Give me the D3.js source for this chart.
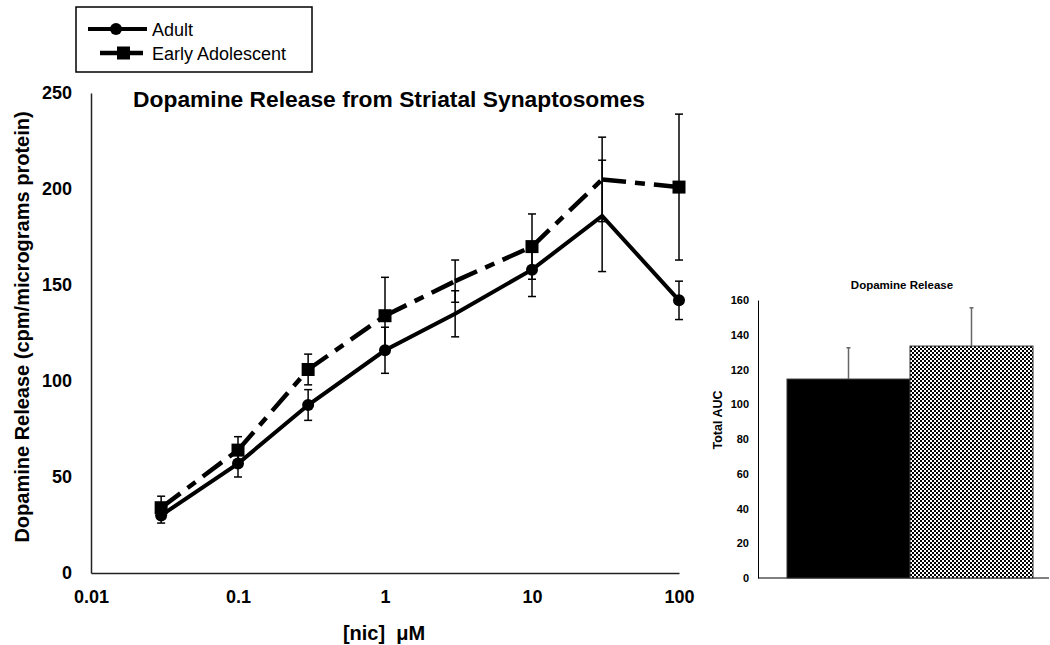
<!DOCTYPE html>
<html>
<head>
<meta charset="utf-8">
<script src="https://cdn.jsdelivr.net/npm/d3@7"></script>
<style>
  html, body { margin: 0; padding: 0; background: #fff; }
  svg { display: block; font-family: "Liberation Sans", Arial, sans-serif; }
</style>
</head>
<body>
<svg id="chart" width="1050" height="645"></svg>
<script>
// ---- data ----
const concentrations = [0.03, 0.1, 0.3, 1, 3, 10, 30, 100];
const adultMean = [30, 57, 87.5, 116, 135, 158, 186, 142];
const adultErr = [4, 7, 8, 12, 12, 14, 29, 10];
const adolescentMean = [34, 64, 106, 134, 152, 170, 205, 201];
const adolescentErr = [6, 7, 8, 20, 11, 17, 22, 38];
const xTickValues = [0.01, 0.1, 1, 10, 100];
const xTickLabels = ["0.01", "0.1", "1", "10", "100"];
const yTickValues = [0, 50, 100, 150, 200, 250];

const barGroups = ["Adult", "Early Adolescent"];
const barValues = [114.5, 133.5];
const barErrors = [18, 22];
const insetTicks = [0, 20, 40, 60, 80, 100, 120, 140, 160];

const svg = d3.select("#chart");

// pattern for checkered bar
const defs = svg.append("defs");
const pat = defs.append("pattern").attr("id", "checker")
  .attr("patternUnits", "userSpaceOnUse").attr("width", 4).attr("height", 4);
pat.append("rect").attr("width", 4).attr("height", 4).attr("fill", "#fff");
pat.append("rect").attr("x", 0).attr("y", 0).attr("width", 2).attr("height", 2).attr("fill", "#000");
pat.append("rect").attr("x", 2).attr("y", 2).attr("width", 2).attr("height", 2).attr("fill", "#000");

// ---- main chart ----
const x = d3.scaleLog().domain([0.01, 100]).range([91, 679]);
const y = d3.scaleLinear().domain([0, 250]).range([573, 93]);

// axes
const yAxis = d3.axisLeft(y).tickValues(yTickValues).tickSize(0).tickPadding(19);
const gy = svg.append("g").attr("transform", "translate(91,0)").call(yAxis);
gy.select(".domain").attr("stroke", "#222").attr("stroke-width", 1.5);
gy.selectAll("text").attr("font-size", 18).attr("font-weight", "bold").attr("fill", "#000");

const xAxis = d3.axisBottom(x).tickValues(xTickValues)
  .tickFormat((d, i) => xTickLabels[i]).tickSize(0).tickPadding(17);
const gx = svg.append("g").attr("transform", "translate(0,573)").call(xAxis);
gx.select(".domain").attr("stroke", "#222").attr("stroke-width", 1.5);
gx.selectAll("text").attr("font-size", 18).attr("font-weight", "bold").attr("fill", "#000");

// titles
svg.append("text").attr("x", 389).attr("y", 107).attr("text-anchor", "middle")
  .attr("font-size", 22.8).attr("font-weight", "bold")
  .text("Dopamine Release from Striatal Synaptosomes");

svg.append("text").attr("transform", "translate(29,327) rotate(-90)")
  .attr("text-anchor", "middle").attr("font-size", 20).attr("font-weight", "bold")
  .text("Dopamine Release (cpm/micrograms protein)");

svg.append("text").attr("x", 384).attr("y", 640).attr("text-anchor", "middle")
  .attr("font-size", 20).attr("font-weight", "bold")
  .attr("xml:space", "preserve")
  .text("[nic]  \u03BCM");

// error bars
function errorBars(means, errs) {
  const g = svg.append("g").attr("stroke", "#000").attr("stroke-width", 1.5);
  concentrations.forEach((c, i) => {
    const cx = x(c), top = y(means[i] + errs[i]), bot = y(means[i] - errs[i]);
    g.append("line").attr("x1", cx).attr("x2", cx).attr("y1", top).attr("y2", bot);
    g.append("line").attr("x1", cx - 4).attr("x2", cx + 4).attr("y1", top).attr("y2", top);
    g.append("line").attr("x1", cx - 4).attr("x2", cx + 4).attr("y1", bot).attr("y2", bot);
  });
}
errorBars(adolescentMean, adolescentErr);
errorBars(adultMean, adultErr);

// adolescent dashed line (dash restarts on each segment)
const gAdo = svg.append("g");
for (let i = 0; i < concentrations.length - 1; i++) {
  gAdo.append("line")
    .attr("x1", x(concentrations[i])).attr("y1", y(adolescentMean[i]))
    .attr("x2", x(concentrations[i + 1])).attr("y2", y(adolescentMean[i + 1]))
    .attr("stroke", "#000").attr("stroke-width", 4.5)
    .attr("stroke-dasharray", "24,9,10,9");
}
// adult solid line
const line = d3.line().x((d, i) => x(concentrations[i])).y(d => y(d));
svg.append("path").datum(adultMean).attr("d", line)
  .attr("fill", "none").attr("stroke", "#000").attr("stroke-width", 4)
  .attr("stroke-linejoin", "miter");

// markers
const adoMarkers = concentrations.map((c, i) => [c, adolescentMean[i]])
  .filter(d => d[0] !== 3 && d[0] !== 30);
svg.append("g").selectAll("rect").data(adoMarkers).join("rect")
  .attr("x", d => x(d[0]) - 6.5).attr("y", d => y(d[1]) - 6.5)
  .attr("width", 13).attr("height", 13).attr("fill", "#000");

const adultMarkers = concentrations.map((c, i) => [c, adultMean[i]])
  .filter(d => d[0] !== 3 && d[0] !== 30);
svg.append("g").selectAll("circle").data(adultMarkers).join("circle")
  .attr("cx", d => x(d[0])).attr("cy", d => y(d[1])).attr("r", 6).attr("fill", "#000");

// legend
const lg = svg.append("g");
lg.append("rect").attr("x", 76).attr("y", 7).attr("width", 236).attr("height", 65)
  .attr("fill", "#fff").attr("stroke", "#000").attr("stroke-width", 1.5);
lg.append("line").attr("x1", 88).attr("x2", 147).attr("y1", 29).attr("y2", 29)
  .attr("stroke", "#000").attr("stroke-width", 4);
lg.append("circle").attr("cx", 116).attr("cy", 29).attr("r", 6).attr("fill", "#000");
lg.append("text").attr("x", 152).attr("y", 36).attr("font-size", 18).text("Adult");
lg.append("line").attr("x1", 100).attr("x2", 143).attr("y1", 53).attr("y2", 53)
  .attr("stroke", "#000").attr("stroke-width", 4.5);
lg.append("rect").attr("x", 117).attr("y", 46.5).attr("width", 13).attr("height", 13).attr("fill", "#000");
lg.append("text").attr("x", 152).attr("y", 60).attr("font-size", 18).text("Early Adolescent");

// ---- inset bar chart ----
const iy = d3.scaleLinear().domain([0, 160]).range([578, 300]);
const ix = d3.scaleBand().domain(barGroups).range([787, 1033]).paddingInner(0).paddingOuter(0);

const iyAxis = d3.axisLeft(iy).tickValues(insetTicks).tickSize(0).tickPadding(9);
const giy = svg.append("g").attr("transform", "translate(758,0)").call(iyAxis);
giy.select(".domain").attr("stroke", "#000").attr("stroke-width", 1);
giy.selectAll("text").attr("font-size", 11).attr("font-weight", "bold").attr("fill", "#000");

svg.append("line").attr("x1", 758).attr("x2", 1049).attr("y1", 578).attr("y2", 578)
  .attr("stroke", "#000").attr("stroke-width", 1);

svg.append("g").selectAll("rect").data(barGroups).join("rect")
  .attr("x", d => ix(d)).attr("width", ix.bandwidth())
  .attr("y", (d, i) => iy(barValues[i])).attr("height", (d, i) => iy(0) - iy(barValues[i]))
  .attr("fill", (d, i) => i === 0 ? "#000" : "url(#checker)")
  .attr("stroke", "#333").attr("stroke-width", 1);

const ge = svg.append("g").attr("stroke", "#666").attr("stroke-width", 1.5);
barGroups.forEach((g, i) => {
  const cx = ix(g) + ix.bandwidth() / 2;
  const top = iy(barValues[i] + barErrors[i]);
  ge.append("line").attr("x1", cx).attr("x2", cx).attr("y1", iy(barValues[i])).attr("y2", top);
  ge.append("line").attr("x1", cx - 2).attr("x2", cx + 2).attr("y1", top).attr("y2", top);
});

svg.append("text").attr("x", 902).attr("y", 289).attr("text-anchor", "middle")
  .attr("font-size", 11.5).attr("font-weight", "bold").text("Dopamine Release");
svg.append("text").attr("transform", "translate(722,420) rotate(-90)")
  .attr("text-anchor", "middle").attr("font-size", 12.5).attr("font-weight", "bold")
  .text("Total AUC");
</script>
</body>
</html>
